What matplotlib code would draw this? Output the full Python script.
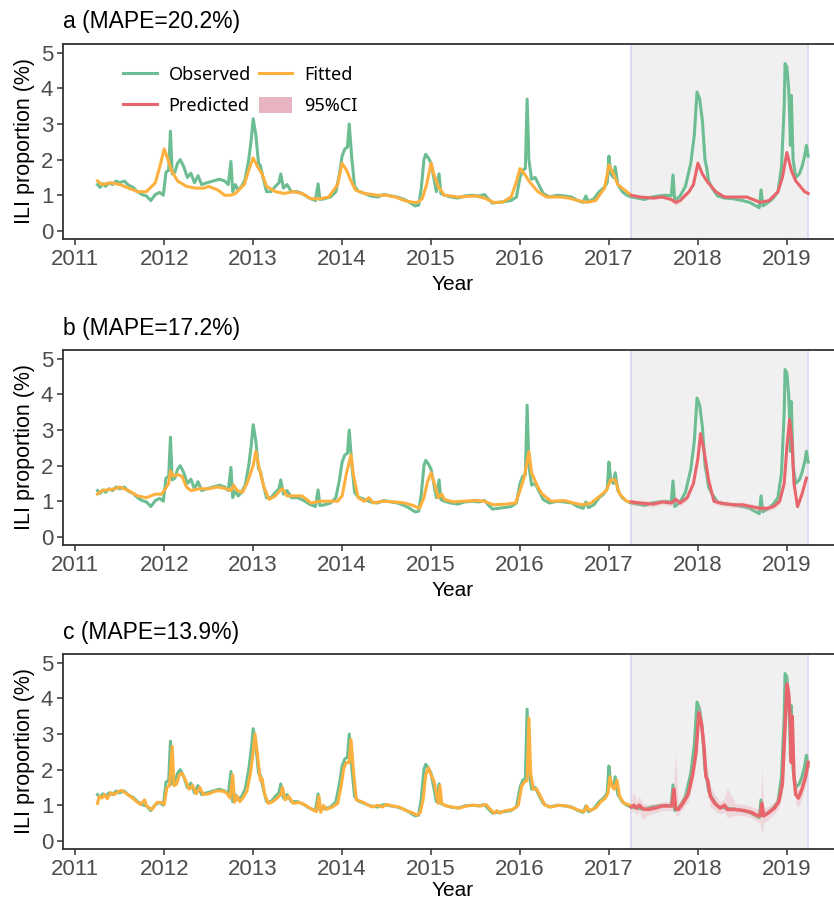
import numpy as np
import matplotlib
matplotlib.use("Agg")
import matplotlib.pyplot as plt
from matplotlib.lines import Line2D
from matplotlib.patches import Patch

# observed weekly ILI proportion (%) - same in all three panels
obs_t = [2011.25, 2011.28, 2011.31, 2011.34, 2011.38, 2011.42, 2011.46, 2011.50, 2011.55, 2011.60,
         2011.65, 2011.70, 2011.75, 2011.80, 2011.85, 2011.90, 2011.95, 2011.99, 2012.02, 2012.05,
         2012.07, 2012.09, 2012.12, 2012.15, 2012.18, 2012.22, 2012.26, 2012.30, 2012.34, 2012.38,
         2012.42, 2012.48, 2012.55, 2012.62, 2012.68, 2012.72, 2012.75, 2012.77, 2012.80, 2012.83,
         2012.87, 2012.91, 2012.95, 2012.98, 2013.00, 2013.03, 2013.06, 2013.08, 2013.11, 2013.15,
         2013.20, 2013.25, 2013.29, 2013.31, 2013.34, 2013.38, 2013.43, 2013.50, 2013.57, 2013.63,
         2013.70, 2013.73, 2013.75, 2013.80, 2013.87, 2013.93, 2013.97, 2014.00, 2014.03, 2014.06,
         2014.08, 2014.11, 2014.14, 2014.18, 2014.25, 2014.32, 2014.40, 2014.47, 2014.55, 2014.62,
         2014.70, 2014.76, 2014.82, 2014.86, 2014.89, 2014.92, 2014.94, 2014.97, 2015.00, 2015.03,
         2015.06, 2015.09, 2015.11, 2015.15, 2015.22, 2015.30, 2015.38, 2015.46, 2015.54, 2015.60,
         2015.65, 2015.69, 2015.75, 2015.82, 2015.90, 2015.96, 2016.00, 2016.03, 2016.06, 2016.08,
         2016.10, 2016.13, 2016.17, 2016.21, 2016.26, 2016.33, 2016.42, 2016.50, 2016.58, 2016.65,
         2016.71, 2016.74, 2016.77, 2016.83, 2016.89, 2016.94, 2016.98, 2017.00, 2017.02, 2017.05,
         2017.07, 2017.10, 2017.15, 2017.20, 2017.25, 2017.32, 2017.40, 2017.48, 2017.56, 2017.64,
         2017.70, 2017.72, 2017.74, 2017.80, 2017.86, 2017.92, 2017.96, 2017.99, 2018.02, 2018.05,
         2018.08, 2018.10, 2018.12, 2018.16, 2018.22, 2018.30, 2018.40, 2018.50, 2018.58, 2018.64,
         2018.69, 2018.71, 2018.73, 2018.78, 2018.84, 2018.90, 2018.94, 2018.97, 2018.98, 2019.00,
         2019.02, 2019.03, 2019.04, 2019.05, 2019.07, 2019.10, 2019.14, 2019.17, 2019.20, 2019.22,
         2019.24]
obs_v = [1.30, 1.22, 1.32, 1.25, 1.35, 1.30, 1.40, 1.35, 1.40, 1.28,
         1.22, 1.10, 1.02, 0.98, 0.85, 1.02, 1.08, 1.00, 1.65, 1.70,
         2.80, 1.60, 1.65, 1.90, 2.00, 1.80, 1.50, 1.62, 1.35, 1.55,
         1.30, 1.35, 1.40, 1.45, 1.40, 1.30, 1.95, 1.10, 1.30, 1.15,
         1.25, 1.45, 2.00, 2.60, 3.15, 2.70, 1.90, 1.85, 1.50, 1.10,
         1.10, 1.25, 1.35, 1.60, 1.20, 1.30, 1.10, 1.10, 1.02, 0.92,
         0.85, 1.32, 0.88, 0.90, 0.95, 1.10, 1.60, 2.10, 2.30, 2.35,
         3.00, 2.00, 1.25, 1.12, 1.05, 0.98, 0.95, 1.02, 0.98, 0.95,
         0.88, 0.80, 0.70, 0.72, 1.20, 2.00, 2.15, 2.05, 1.90, 1.50,
         1.10, 1.60, 1.05, 1.00, 0.95, 0.92, 0.98, 1.00, 0.98, 1.02,
         0.88, 0.78, 0.80, 0.82, 0.85, 0.95, 1.50, 1.70, 1.75, 3.70,
         2.00, 1.45, 1.50, 1.30, 1.05, 0.95, 1.00, 0.98, 0.95, 0.85,
         0.80, 0.98, 0.82, 0.90, 1.10, 1.20, 1.35, 2.10, 1.60, 1.50,
         1.80, 1.30, 1.10, 1.00, 0.95, 0.92, 0.88, 0.95, 0.98, 1.00,
         0.98, 1.57, 0.85, 0.98, 1.25, 1.90, 2.70, 3.90, 3.70, 3.10,
         2.00, 1.75, 1.40, 1.20, 0.98, 0.92, 0.90, 0.85, 0.80, 0.72,
         0.65, 1.15, 0.70, 0.78, 0.90, 1.10, 1.80, 3.50, 4.70, 4.60,
         4.00, 3.40, 2.40, 3.80, 2.00, 1.50, 1.60, 1.80, 2.10, 2.40,
         2.10]

# panel a fitted / predicted
fit_a_t = [2011.25, 2011.30, 2011.40, 2011.50, 2011.60, 2011.70, 2011.80, 2011.90, 2011.95, 2012.00,
           2012.03, 2012.08, 2012.15, 2012.25, 2012.35, 2012.45, 2012.50, 2012.60, 2012.68, 2012.75,
           2012.80, 2012.90, 2012.95, 2013.00, 2013.05, 2013.10, 2013.15, 2013.25, 2013.35, 2013.45,
           2013.55, 2013.65, 2013.75, 2013.85, 2013.95, 2014.00, 2014.05, 2014.10, 2014.15, 2014.25,
           2014.40, 2014.50, 2014.60, 2014.70, 2014.80, 2014.85, 2014.90, 2014.95, 2015.00, 2015.03,
           2015.08, 2015.15, 2015.30, 2015.50, 2015.60, 2015.70, 2015.80, 2015.90, 2015.95, 2016.00,
           2016.05, 2016.10, 2016.20, 2016.30, 2016.45, 2016.55, 2016.65, 2016.75, 2016.85, 2016.95,
           2017.00, 2017.05, 2017.10, 2017.20, 2017.25]
fit_a_v = [1.40, 1.30, 1.35, 1.30, 1.20, 1.10, 1.10, 1.35, 1.80, 2.30,
           2.10, 1.70, 1.40, 1.25, 1.20, 1.20, 1.25, 1.15, 1.00, 1.00,
           1.05, 1.30, 1.70, 2.05, 1.80, 1.60, 1.25, 1.10, 1.05, 1.10,
           1.05, 0.90, 0.90, 0.95, 1.30, 1.90, 1.70, 1.40, 1.15, 1.05,
           1.00, 1.00, 0.95, 0.85, 0.80, 0.80, 0.90, 1.30, 1.90, 1.60,
           1.25, 1.00, 0.95, 0.98, 0.92, 0.80, 0.80, 0.95, 1.30, 1.75,
           1.60, 1.40, 1.10, 0.95, 0.95, 0.92, 0.85, 0.80, 0.85, 1.20,
           1.85, 1.60, 1.30, 1.10, 1.00]
pred_a_t = [2017.25, 2017.35, 2017.50, 2017.60, 2017.70, 2017.75, 2017.80, 2017.90, 2017.95, 2018.00,
            2018.05, 2018.10, 2018.20, 2018.30, 2018.45, 2018.55, 2018.65, 2018.70, 2018.80, 2018.90,
            2018.95, 2019.00, 2019.05, 2019.10, 2019.20, 2019.24]
pred_a_v = [1.00, 0.95, 0.92, 0.95, 0.88, 0.80, 0.85, 1.10, 1.30, 1.90,
            1.60, 1.40, 1.10, 0.95, 0.95, 0.95, 0.85, 0.80, 0.85, 1.10,
            1.50, 2.20, 1.70, 1.40, 1.10, 1.05]
ci_a_lo = [0.96, 0.91, 0.88, 0.91, 0.84, 0.70, 0.81, 1.06, 1.26, 1.86,
           1.56, 1.36, 1.06, 0.91, 0.91, 0.91, 0.81, 0.76, 0.81, 1.06,
           1.46, 2.16, 1.66, 1.36, 1.06, 1.01]
ci_a_hi = [1.04, 0.99, 0.96, 0.99, 0.92, 0.90, 0.89, 1.14, 1.34, 1.94,
           1.64, 1.44, 1.14, 0.99, 0.99, 0.99, 0.89, 0.84, 0.89, 1.14,
           1.54, 2.24, 1.74, 1.44, 1.14, 1.09]

# panel b fitted / predicted
fit_b_t = [2011.25, 2011.30, 2011.45, 2011.50, 2011.60, 2011.70, 2011.80, 2011.90, 2011.97, 2012.00,
           2012.05, 2012.07, 2012.10, 2012.15, 2012.20, 2012.25, 2012.30, 2012.40, 2012.50, 2012.60,
           2012.70, 2012.75, 2012.78, 2012.82, 2012.88, 2012.93, 2013.00, 2013.03, 2013.07, 2013.12,
           2013.18, 2013.25, 2013.30, 2013.33, 2013.38, 2013.45, 2013.55, 2013.65, 2013.75, 2013.85,
           2013.95, 2014.00, 2014.05, 2014.10, 2014.13, 2014.18, 2014.25, 2014.30, 2014.35, 2014.45,
           2014.60, 2014.70, 2014.80, 2014.87, 2014.92, 2014.96, 2015.00, 2015.05, 2015.08, 2015.12,
           2015.15, 2015.25, 2015.35, 2015.50, 2015.60, 2015.70, 2015.85, 2015.95, 2016.00, 2016.05,
           2016.10, 2016.13, 2016.20, 2016.25, 2016.35, 2016.50, 2016.60, 2016.70, 2016.80, 2016.90,
           2016.97, 2017.02, 2017.07, 2017.12, 2017.20, 2017.25]
fit_b_v = [1.20, 1.30, 1.35, 1.40, 1.30, 1.15, 1.10, 1.20, 1.20, 1.30,
           1.50, 1.85, 1.70, 1.75, 1.70, 1.40, 1.30, 1.35, 1.35, 1.40,
           1.35, 1.30, 1.45, 1.30, 1.25, 1.50, 2.00, 2.40, 1.90, 1.40,
           1.05, 1.15, 1.30, 1.35, 1.15, 1.15, 1.15, 0.95, 1.00, 1.00,
           1.00, 1.15, 1.80, 2.30, 1.70, 1.10, 1.00, 1.10, 0.95, 1.00,
           0.98, 0.95, 0.88, 0.80, 1.10, 1.55, 1.80, 1.40, 1.10, 1.20,
           1.05, 0.98, 1.00, 1.02, 1.00, 0.90, 0.92, 0.95, 1.30, 1.70,
           2.40, 1.80, 1.40, 1.20, 1.00, 1.02, 0.95, 0.90, 0.95, 1.15,
           1.30, 1.60, 1.60, 1.20, 1.00, 0.98]
pred_b_t = [2017.25, 2017.35, 2017.50, 2017.60, 2017.70, 2017.75, 2017.80, 2017.88, 2017.95, 2018.00,
            2018.03, 2018.07, 2018.12, 2018.18, 2018.25, 2018.40, 2018.50, 2018.60, 2018.70, 2018.78,
            2018.85, 2018.92, 2018.97, 2019.00, 2019.03, 2019.06, 2019.08, 2019.12, 2019.17, 2019.22]
pred_b_v = [0.98, 0.95, 0.92, 0.98, 0.95, 1.05, 0.95, 1.10, 1.50, 2.20,
            2.90, 2.40, 1.60, 1.00, 0.95, 0.90, 0.90, 0.85, 0.80, 0.80,
            0.85, 1.00, 1.50, 2.50, 3.30, 2.60, 1.50, 0.85, 1.20, 1.65]
ci_b_lo = [0.90, 0.87, 0.84, 0.90, 0.87, 0.95, 0.87, 1.02, 1.42, 2.10,
           2.80, 2.30, 1.52, 0.92, 0.87, 0.82, 0.82, 0.77, 0.72, 0.72,
           0.77, 0.92, 1.42, 2.40, 3.20, 2.50, 1.42, 0.77, 1.12, 1.57]
ci_b_hi = [1.06, 1.03, 1.00, 1.06, 1.03, 1.15, 1.03, 1.18, 1.58, 2.30,
           3.00, 2.50, 1.68, 1.08, 1.03, 0.98, 0.98, 0.93, 0.88, 0.88,
           0.93, 1.08, 1.58, 2.60, 3.40, 2.70, 1.58, 0.93, 1.28, 1.73]

# panel c fitted / predicted
fit_c_t = [2011.25, 2011.27, 2011.30, 2011.33, 2011.36, 2011.40, 2011.44, 2011.48, 2011.52, 2011.56,
           2011.62, 2011.68, 2011.73, 2011.78, 2011.80, 2011.86, 2011.92, 2011.97, 2012.00, 2012.03,
           2012.06, 2012.09, 2012.11, 2012.14, 2012.17, 2012.20, 2012.24, 2012.28, 2012.32, 2012.36,
           2012.40, 2012.44, 2012.50, 2012.58, 2012.65, 2012.70, 2012.74, 2012.77, 2012.79, 2012.82,
           2012.85, 2012.89, 2012.93, 2012.97, 2013.00, 2013.02, 2013.05, 2013.08, 2013.10, 2013.13,
           2013.17, 2013.22, 2013.27, 2013.31, 2013.33, 2013.36, 2013.40, 2013.45, 2013.52, 2013.59,
           2013.65, 2013.71, 2013.74, 2013.76, 2013.79, 2013.82, 2013.89, 2013.95, 2013.99, 2014.02,
           2014.05, 2014.08, 2014.10, 2014.13, 2014.16, 2014.22, 2014.28, 2014.34, 2014.40, 2014.45,
           2014.50, 2014.57, 2014.64, 2014.72, 2014.78, 2014.84, 2014.88, 2014.91, 2014.94, 2014.97,
           2015.00, 2015.03, 2015.06, 2015.08, 2015.10, 2015.12, 2015.17, 2015.24, 2015.32, 2015.40,
           2015.48, 2015.56, 2015.62, 2015.66, 2015.71, 2015.74, 2015.77, 2015.84, 2015.92, 2015.98,
           2016.02, 2016.05, 2016.08, 2016.10, 2016.12, 2016.15, 2016.19, 2016.23, 2016.28, 2016.35,
           2016.44, 2016.52, 2016.60, 2016.67, 2016.72, 2016.75, 2016.78, 2016.85, 2016.91, 2016.96,
           2016.99, 2017.01, 2017.04, 2017.06, 2017.09, 2017.12, 2017.17, 2017.22, 2017.25]
fit_c_v = [1.05, 1.25, 1.20, 1.30, 1.18, 1.35, 1.30, 1.38, 1.42, 1.35,
           1.25, 1.12, 1.02, 1.15, 0.98, 0.88, 1.08, 1.08, 1.02, 1.50,
           1.55, 2.65, 1.55, 1.60, 1.85, 1.90, 1.70, 1.45, 1.55, 1.32,
           1.50, 1.30, 1.32, 1.40, 1.40, 1.35, 1.20, 1.85, 1.08, 1.25,
           1.10, 1.22, 1.40, 1.90, 2.50, 3.00, 2.40, 1.70, 1.75, 1.30,
           1.05, 1.10, 1.20, 1.30, 1.50, 1.15, 1.25, 1.05, 1.08, 1.00,
           0.90, 0.82, 1.25, 0.80, 1.00, 0.88, 0.95, 1.05, 1.55, 2.05,
           2.20, 2.20, 2.85, 1.90, 1.15, 1.10, 1.02, 0.95, 1.00, 0.95,
           1.02, 0.98, 0.95, 0.85, 0.80, 0.72, 0.80, 1.15, 1.85, 2.05,
           1.85, 1.70, 1.30, 1.05, 1.55, 1.05, 0.98, 0.95, 0.92, 0.98,
           1.00, 0.98, 1.02, 0.90, 0.78, 0.85, 0.78, 0.85, 0.88, 1.00,
           1.55, 1.65, 1.70, 3.45, 1.90, 1.45, 1.45, 1.25, 1.00, 0.95,
           1.00, 0.98, 0.92, 0.85, 0.82, 0.98, 0.85, 0.92, 1.10, 1.20,
           1.35, 1.80, 1.50, 1.45, 1.70, 1.25, 1.05, 1.02, 0.98]
pred_c_t = [2017.25, 2017.28, 2017.31, 2017.34, 2017.38, 2017.44, 2017.52, 2017.60, 2017.67, 2017.71,
            2017.73, 2017.75, 2017.78, 2017.83, 2017.89, 2017.94, 2017.98, 2018.01, 2018.04, 2018.07,
            2018.09, 2018.11, 2018.14, 2018.19, 2018.25, 2018.30, 2018.33, 2018.42, 2018.52, 2018.60,
            2018.66, 2018.70, 2018.72, 2018.74, 2018.80, 2018.86, 2018.91, 2018.95, 2018.98, 2019.00,
            2019.02, 2019.04, 2019.05, 2019.06, 2019.08, 2019.10, 2019.13, 2019.17, 2019.21, 2019.24]
pred_c_v = [0.95, 1.00, 0.92, 1.00, 0.90, 0.88, 0.92, 0.98, 0.98, 0.98,
            1.45, 0.90, 0.88, 1.05, 1.30, 1.85, 2.50, 3.60, 3.30, 2.60,
            1.80, 1.70, 1.25, 1.05, 0.92, 1.00, 0.88, 0.88, 0.85, 0.80,
            0.72, 0.70, 1.05, 0.70, 0.80, 0.92, 1.10, 1.60, 3.20, 4.40,
            4.15, 3.30, 2.20, 3.50, 1.80, 1.30, 1.20, 1.45, 1.80, 2.20]
ci_c_lo = [0.80, 0.85, 0.72, 0.82, 0.60, 0.72, 0.78, 0.85, 0.85, 0.85,
           1.20, 0.70, 0.72, 0.90, 1.10, 1.60, 2.20, 3.30, 3.00, 2.30,
           1.50, 1.40, 0.95, 0.85, 0.75, 0.80, 0.65, 0.72, 0.70, 0.65,
           0.55, 0.50, 0.15, 0.50, 0.62, 0.75, 0.92, 1.35, 2.90, 4.10,
           3.85, 3.00, 1.90, 3.20, 1.50, 1.05, 0.95, 1.20, 1.55, 1.95]
ci_c_hi = [1.12, 1.40, 1.10, 1.25, 1.05, 1.02, 1.05, 1.10, 1.12, 1.15,
           1.70, 2.50, 1.05, 1.25, 1.50, 2.10, 2.80, 3.85, 3.60, 2.90,
           2.10, 2.05, 1.55, 1.30, 1.10, 1.20, 1.50, 1.05, 1.02, 0.98,
           0.90, 0.90, 2.05, 0.90, 0.98, 1.10, 1.30, 1.85, 3.50, 4.65,
           4.45, 3.60, 2.50, 3.80, 2.10, 1.60, 1.45, 1.70, 2.05, 2.45]

titles = ["a (MAPE=20.2%)", "b (MAPE=17.2%)", "c (MAPE=13.9%)"]
fits = [(fit_a_t, fit_a_v), (fit_b_t, fit_b_v), (fit_c_t, fit_c_v)]
preds = [(pred_a_t, pred_a_v, ci_a_lo, ci_a_hi),
         (pred_b_t, pred_b_v, ci_b_lo, ci_b_hi),
         (pred_c_t, pred_c_v, ci_c_lo, ci_c_hi)]
years = list(range(2011, 2020))
test_start, test_end = 2017.25, 2019.235

green = "#6dbd92"
orange = "#fdb03e"
red = "#e8666b"
pink = "#e9b4c2"

plt.rcParams["font.family"] = ["Liberation Sans", "DejaVu Sans"]

fig = plt.figure(figsize=(8.34, 9.02), dpi=100)
W, H = 834, 902
tops = [44, 350, 654]  # pixel rows of the top spines

for i, top in enumerate(tops):
    ax = fig.add_axes([63 / W, 1 - (top + 195) / H, (842 - 63) / W, 195 / H])
    ax.axvspan(test_start, test_end, facecolor="#f0f0f0", edgecolor="#d6d6f2", lw=1.2, zorder=0)
    ax.plot(obs_t, obs_v, color=green, lw=2.2, zorder=2)
    ft, fv = fits[i]
    ax.plot(ft, fv, color=orange, lw=2.2, zorder=3)
    pt, pv, lo, hi = preds[i]
    ax.fill_between(pt, lo, hi, color="#eaa0ad", alpha=0.3, lw=0, zorder=3)
    ax.plot(pt, pv, color=red, lw=2.5 if i == 2 else 2.2, zorder=4)

    ax.set_xlim(2010.862, 2019.62)
    ax.set_ylim(-0.23, 5.25)
    ax.set_xticks(years)
    ax.set_yticks(range(6))
    ax.tick_params(axis="both", labelsize=16, colors="#333333", labelcolor="#4d4d4d",
                   length=4, width=1.1, pad=3)
    for side in ["top", "bottom", "left"]:
        ax.spines[side].set_color("#333333")
        ax.spines[side].set_linewidth(1.3)
    ax.spines["right"].set_visible(False)
    ax.set_ylabel("ILI proportion (%)", fontsize=15.5, labelpad=4)
    # last panel's label sits close to the bottom edge, keep it inside
    ax.set_xlabel("Year", fontsize=15, labelpad=4 if i < 2 else 1)
    ax.text(0, 1 + 22 / 195, titles[i], transform=ax.transAxes, ha="left", va="center",
            fontsize=16.5)

    if i == 0:
        handles = [Line2D([], [], color=green, lw=2.2),
                   Line2D([], [], color=red, lw=2.2),
                   Line2D([], [], color=orange, lw=2.2),
                   Patch(facecolor=pink, edgecolor="none")]
        labels = ["Observed", "Predicted", "Fitted", "95%CI"]
        ax.legend(handles, labels, ncol=2, loc="upper left", bbox_to_anchor=(0.066, 0.935),
                  frameon=False, prop={"family": "Noto Sans", "size": 13}, borderpad=0,
                  handlelength=1.85, handleheight=1.0, handletextpad=0.65,
                  columnspacing=0.45, labelspacing=0.7)

fig.savefig("out.png", dpi=100)
